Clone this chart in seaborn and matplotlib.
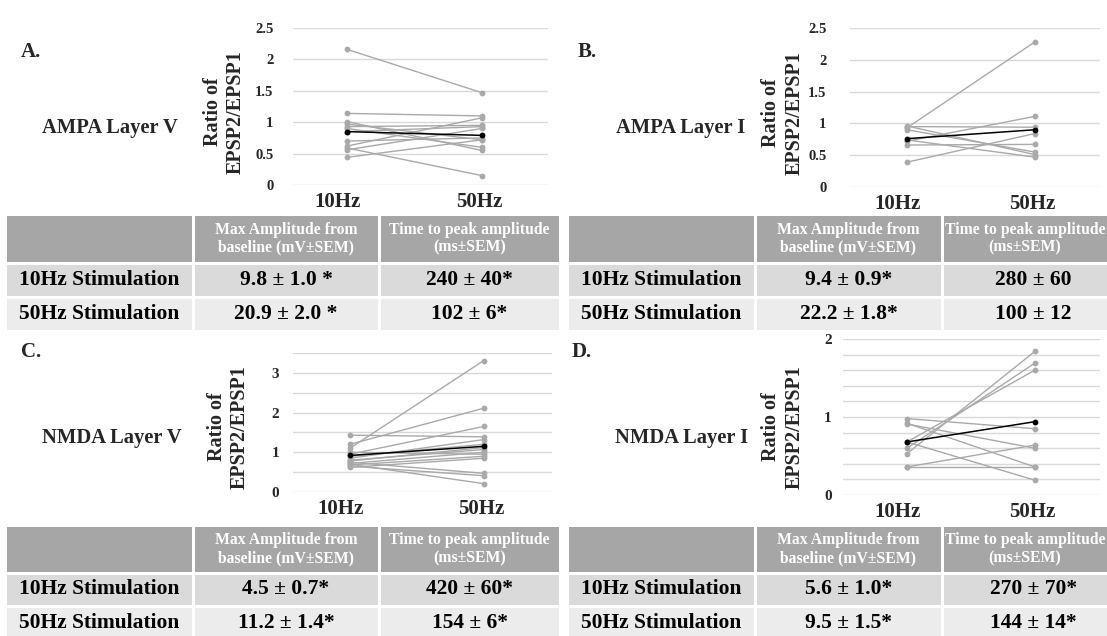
import numpy as np
import pandas as pd
import matplotlib
matplotlib.use("Agg")
import matplotlib.pyplot as plt
import seaborn as sns
from matplotlib.patches import Rectangle

# ---------------- data ----------------
freqs = ["10Hz", "50Hz"]

ampa5_10 = [2.16, 1.14, 1.01, 0.97, 0.93, 0.90, 0.85, 0.70, 0.62, 0.59, 0.56, 0.44]
ampa5_50 = [1.47, 1.10, 0.55, 0.72, 0.95, 0.60, 0.93, 0.75, 1.07, 0.15, 0.90, 0.72]
ampa5_mean = [0.85, 0.79]

ampa1_10 = [0.93, 0.72, 0.95, 0.96, 0.90, 0.66, 0.39, 0.74]
ampa1_50 = [2.28, 1.11, 0.94, 0.51, 0.55, 0.67, 0.84, 0.47]
ampa1_mean = [0.76, 0.90]

nmda5_10 = [1.10, 1.20, 0.95, 1.43, 0.85, 0.80, 0.72, 0.68, 0.62, 0.75, 0.65, 0.70, 0.90, 1.00, 0.78]
nmda5_50 = [3.31, 2.11, 1.65, 1.39, 1.32, 1.07, 1.00, 0.90, 0.85, 0.47, 0.41, 0.21, 1.20, 0.95, 1.12]
nmda5_mean = [0.92, 1.15]

nmda1_10 = [0.53, 0.60, 0.68, 0.98, 0.92, 0.91, 0.68, 0.36, 0.36]
nmda1_50 = [1.84, 1.69, 1.60, 0.85, 0.36, 0.60, 0.19, 0.64, 0.36]
nmda1_mean = [0.68, 0.94]

panel_letters = ["A.", "B.", "C.", "D."]
panel_titles = ["AMPA Layer V", "AMPA Layer I", "NMDA Layer V", "NMDA Layer I"]
ylabel_text = "Ratio of\nEPSP2/EPSP1"

row_labels = ["10Hz Stimulation", "50Hz Stimulation"]
col_headers = ["Max Amplitude from\nbaseline (mV±SEM)", "Time to peak amplitude\n(ms±SEM)"]
ampa5_amp = ["9.8 ± 1.0 *", "20.9 ± 2.0 *"]
ampa5_time = ["240 ± 40*", "102 ± 6*"]
ampa1_amp = ["9.4 ± 0.9*", "22.2 ± 1.8*"]
ampa1_time = ["280 ± 60", "100 ± 12"]
nmda5_amp = ["4.5 ± 0.7*", "11.2 ± 1.4*"]
nmda5_time = ["420 ± 60*", "154 ± 6*"]
nmda1_amp = ["5.6 ± 1.0*", "9.5 ± 1.5*"]
nmda1_time = ["270 ± 70*", "144 ± 14*"]

# ---------------- style ----------------
sns.set_theme(style="white")
plt.rcParams["font.family"] = ["Liberation Serif", "DejaVu Serif"]
plt.rcParams["font.weight"] = "bold"

W, H = 1107, 636
fig = plt.figure(figsize=(W / 100, H / 100), dpi=100)
fig.patch.set_facecolor("white")

GRAY = "#a9a9a9"
GRID = "#d9d9d9"
HDR = "#a6a6a6"
ROW1 = "#dadada"
ROW2 = "#ececec"


def rect_px(x0, x1, y0, y1):
    return [x0 / W, 1 - y1 / H, (x1 - x0) / W, (y1 - y0) / H]


def fpos(x, y):
    return x / W, 1 - y / H


# overlay axis for tables (pixel coordinates)
ov = fig.add_axes([0, 0, 1, 1])
ov.set_xlim(0, W)
ov.set_ylim(H, 0)
ov.axis("off")


def draw_table(x_edges, y_edges, amp, tim, hdr_cx=None):
    fills = [HDR, ROW1, ROW2]
    for r in range(3):
        for c in range(3):
            x0, x1 = x_edges[c], x_edges[c + 1]
            y0, y1 = y_edges[r], y_edges[r + 1]
            ov.add_patch(Rectangle((x0 + 1.5, y0 + 1.5), x1 - x0 - 3, y1 - y0 - 3,
                                   fc=fills[r], ec="none", zorder=1))
    cx = [(x_edges[i] + x_edges[i + 1]) / 2 for i in range(3)]
    cy = [(y_edges[i] + y_edges[i + 1]) / 2 for i in range(3)]
    hx = [cx[1], cx[2] if hdr_cx is None else hdr_cx]
    for c in range(2):
        ov.text(hx[c], cy[0], col_headers[c], ha="center", va="center",
                color="white", fontsize=11.3, fontweight="bold", linespacing=1.15, zorder=2)
    for r in range(2):
        ov.text(cx[0], cy[r + 1], row_labels[r], ha="center", va="center",
                color="black", fontsize=15.5, fontweight="bold", zorder=2)
        ov.text(cx[1], cy[r + 1], amp[r], ha="center", va="center",
                color="black", fontsize=15.5, fontweight="bold", zorder=2)
        ov.text(cx[2], cy[r + 1], tim[r], ha="center", va="center",
                color="black", fontsize=15.5, fontweight="bold", zorder=2)


top_y = [214, 263, 297, 331]
bot_y = [525, 573, 606, 639]
left_x = [5, 193, 379, 560]
right_x = [567, 755, 942, 1125]

draw_table(left_x, top_y, ampa5_amp, ampa5_time)
draw_table(right_x, top_y, ampa1_amp, ampa1_time, hdr_cx=1025)
draw_table(left_x, bot_y, nmda5_amp, nmda5_time)
draw_table(right_x, bot_y, nmda1_amp, nmda1_time, hdr_cx=1025)


def draw_panel(box, v10, v50, vmean, xlim, ylim, step, yticks, yfs, ypad):
    ax = fig.add_axes(rect_px(*box))
    ax.set_facecolor("none")
    n = len(v10)
    df = pd.DataFrame({
        "cell": np.repeat(np.arange(n), 2),
        "x": np.tile([0, 1], n),
        "ratio": np.column_stack([v10, v50]).ravel(),
    })
    sns.lineplot(data=df, x="x", y="ratio", units="cell", estimator=None,
                 color=GRAY, marker="o", markersize=4.2, markeredgewidth=0,
                 linewidth=1.0, ax=ax, legend=False, zorder=3)
    dm = pd.DataFrame({"x": [0, 1], "ratio": vmean})
    sns.lineplot(data=dm, x="x", y="ratio", color="black", marker="o",
                 markersize=4.2, markeredgewidth=0, linewidth=1.1, ax=ax,
                 legend=False, zorder=4)
    for g in np.arange(0, ylim[1] + 1e-9, step):
        ax.axhline(g, color=GRID, lw=1.0, zorder=1)
    ax.set_xlim(*xlim)
    ax.set_ylim(*ylim)
    ax.set_yticks(yticks)
    ax.set_yticklabels([f"{t:g}" for t in yticks], fontsize=yfs, fontweight="bold")
    ax.set_xticks([-0.07, 0.98])
    ax.set_xticklabels(freqs, fontsize=15, fontweight="bold")
    ax.tick_params(axis="both", length=0)
    ax.tick_params(axis="y", pad=ypad)
    ax.tick_params(axis="x", pad=5)
    ax.set_xlabel("")
    ax.set_ylabel("")
    for s in ax.spines.values():
        s.set_visible(False)
    return ax


draw_panel((293, 548, 28, 185), ampa5_10, ampa5_50, ampa5_mean,
           (-0.40, 1.49), (0, 2.5), 0.5, [0, 0.5, 1, 1.5, 2, 2.5], 10.5, 14)
draw_panel((850, 1100, 28, 187), ampa1_10, ampa1_50, ampa1_mean,
           (-0.445, 1.51), (0, 2.5), 0.5, [0, 0.5, 1, 1.5, 2, 2.5], 10.5, 17)
draw_panel((293, 552, 353, 492), nmda5_10, nmda5_50, nmda5_mean,
           (-0.425, 1.51), (0, 3.5), 0.5, [0, 1, 2, 3], 11, 10)
draw_panel((843, 1100, 339, 495), nmda1_10, nmda1_50, nmda1_mean,
           (-0.50, 1.51), (0, 2.0), 0.2, [0, 1, 2], 11, 8)

# panel letters / titles / y labels
letter_pos = [(21, 52), (578, 52), (21, 352), (572, 352)]
title_pos = [(110, 128), (681, 128), (112, 438), (682, 438)]
ylab_pos = [(224, 112), (783, 113), (228, 427), (783, 427)]
for i in range(4):
    fig.text(*fpos(*letter_pos[i]), panel_letters[i], ha="left", va="center",
             fontsize=15, fontweight="bold")
    fig.text(*fpos(*title_pos[i]), panel_titles[i], ha="center", va="center",
             fontsize=14.8, fontweight="bold")
    fig.text(*fpos(*ylab_pos[i]), ylabel_text, ha="center", va="center",
             rotation=90, fontsize=14.5, fontweight="bold", multialignment="center")

fig.savefig("out.png", dpi=100)
